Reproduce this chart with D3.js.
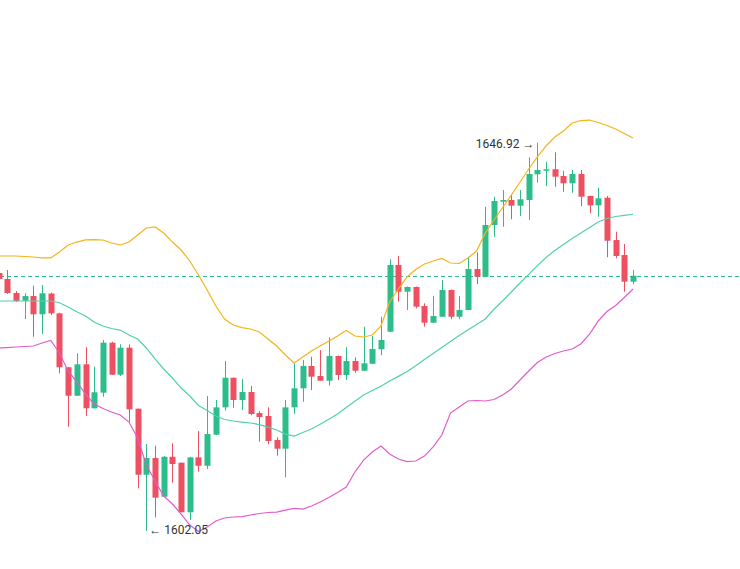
<!DOCTYPE html>
<html>
<head>
<meta charset="utf-8">
<script src="https://cdn.jsdelivr.net/npm/d3@7"></script>
<style>
  html, body { margin: 0; padding: 0; background: #fff; }
  svg { display: block; }
  .label { font-family: Roboto, "Liberation Sans", Arial, sans-serif; font-size: 12px; fill: #333; }
</style>
</head>
<body>
<div id="chart"></div>
<script>
const WIDTH = 740;
const HEIGHT = 569;

// velas (open, high, low, close)
const OPEN = [
  1631.86, 1631.17, 1629.55, 1628.66, 1629.20, 1627.09, 1629.49, 1627.20, 1620.97, 1617.68,
  1621.31, 1616.23, 1618.03, 1623.81, 1620.11, 1623.23, 1616.18, 1608.55, 1610.48, 1606.01,
  1610.63, 1609.94, 1604.21, 1610.56, 1609.59, 1613.18, 1616.34, 1619.76, 1617.19, 1618.11,
  1615.68, 1615.34, 1612.57, 1611.56, 1616.34, 1618.54, 1621.12, 1619.96, 1619.42, 1622.27,
  1620.08, 1621.69, 1620.57, 1621.38, 1623.05, 1625.08, 1632.79, 1629.70, 1630.25, 1628.05,
  1626.12, 1626.81, 1629.90, 1626.81, 1627.59, 1632.32, 1631.43, 1637.41, 1640.10, 1640.30,
  1639.64, 1640.30, 1643.27, 1643.68, 1643.85, 1643.07, 1642.23, 1643.30, 1640.76, 1639.68,
  1640.56, 1635.67, 1633.94, 1630.86
];
const HIGH = [
  1631.98, 1632.21, 1629.78, 1629.55, 1630.39, 1630.48, 1629.61, 1627.27, 1621.00, 1622.58,
  1623.28, 1621.04, 1624.12, 1623.92, 1623.62, 1623.62, 1616.20, 1612.10, 1611.90, 1610.71,
  1612.18, 1609.96, 1610.63, 1613.60, 1617.65, 1617.19, 1621.69, 1619.78, 1619.61, 1618.80,
  1615.91, 1616.34, 1612.88, 1617.19, 1621.43, 1621.81, 1622.19, 1622.96, 1624.43, 1622.33,
  1623.28, 1622.12, 1625.66, 1624.58, 1626.81, 1633.45, 1633.83, 1630.30, 1630.30, 1628.36,
  1629.21, 1631.05, 1629.96, 1629.21, 1633.74, 1634.25, 1639.52, 1640.68, 1641.45, 1640.88,
  1641.45, 1645.23, 1646.92, 1644.72, 1645.81, 1643.68, 1643.77, 1643.77, 1640.82, 1641.72,
  1640.76, 1636.63, 1635.21, 1632.21
];
const LOW = [
  1631.05, 1629.44, 1628.51, 1626.55, 1624.50, 1624.81, 1627.01, 1620.27, 1614.10, 1617.65,
  1615.34, 1616.20, 1617.57, 1620.08, 1619.96, 1614.68, 1606.98, 1602.05, 1603.63, 1605.98,
  1607.63, 1604.19, 1603.32, 1608.90, 1609.21, 1613.14, 1615.95, 1616.30, 1616.03, 1615.42,
  1612.37, 1612.07, 1610.75, 1608.25, 1615.57, 1616.99, 1618.34, 1619.38, 1618.84, 1619.50,
  1619.50, 1620.34, 1620.54, 1621.35, 1622.35, 1625.04, 1628.55, 1627.59, 1627.78, 1625.66,
  1626.08, 1626.78, 1626.51, 1626.51, 1627.58, 1630.59, 1631.40, 1636.06, 1637.21, 1638.07,
  1638.45, 1637.99, 1642.30, 1641.92, 1641.83, 1641.26, 1641.14, 1639.60, 1638.76, 1638.37,
  1633.68, 1633.56, 1629.70, 1630.56
];
const CLOSE = [
  1631.17, 1629.55, 1628.63, 1629.20, 1627.09, 1629.52, 1627.20, 1620.97, 1617.68, 1621.31,
  1616.23, 1618.08, 1623.81, 1620.11, 1623.23, 1616.11, 1608.55, 1610.48, 1605.90, 1610.63,
  1609.79, 1604.21, 1610.56, 1609.59, 1613.26, 1616.34, 1619.76, 1617.19, 1618.11, 1615.57,
  1615.22, 1612.45, 1611.56, 1616.34, 1618.54, 1621.12, 1619.88, 1619.42, 1622.27, 1620.08,
  1621.69, 1620.57, 1621.43, 1623.08, 1624.12, 1632.79, 1629.70, 1630.25, 1627.97, 1626.12,
  1626.89, 1629.90, 1626.81, 1627.59, 1632.32, 1631.43, 1637.41, 1640.18, 1640.30, 1639.64,
  1640.38, 1643.30, 1643.77, 1643.85, 1642.99, 1642.23, 1643.30, 1640.68, 1639.68, 1640.49,
  1635.59, 1633.83, 1630.86, 1631.55
];

// bandas de Bollinger
const BB_UPPER = [
  1633.83, 1633.83, 1633.83, 1633.77, 1633.71, 1633.60, 1633.60, 1634.29, 1635.10, 1635.44,
  1635.68, 1635.73, 1635.68, 1635.33, 1635.10, 1635.44, 1636.25, 1637.06, 1637.18, 1636.48,
  1635.44, 1634.52, 1633.25, 1631.63, 1629.90, 1628.05, 1626.55, 1625.85, 1625.56, 1625.39,
  1625.04, 1624.24, 1623.43, 1622.39, 1621.46, 1622.16, 1622.85, 1623.43, 1624.01, 1624.58,
  1625.22, 1624.58, 1624.47, 1624.70, 1625.74, 1628.51, 1630.01, 1631.40, 1632.27, 1632.90,
  1633.25, 1633.54, 1633.02, 1632.96, 1633.60, 1634.40, 1636.48, 1637.99, 1639.43, 1640.87,
  1642.38, 1643.88, 1645.27, 1646.54, 1647.58, 1648.27, 1649.20, 1649.48, 1649.54, 1649.25,
  1648.91, 1648.50, 1647.98, 1647.46
];
const BB_MIDDLE = [
  1628.63, 1628.63, 1628.63, 1628.63, 1628.63, 1628.63, 1628.63, 1628.43, 1627.93, 1627.39,
  1626.89, 1626.20, 1625.74, 1625.45, 1625.27, 1624.70, 1624.24, 1623.20, 1621.93, 1620.77,
  1619.73, 1618.57, 1617.65, 1616.55, 1615.97, 1615.34, 1614.93, 1614.76, 1614.64, 1614.53,
  1614.35, 1614.06, 1613.72, 1613.25, 1613.02, 1613.43, 1613.83, 1614.38, 1614.96, 1615.57,
  1616.32, 1617.04, 1617.76, 1618.28, 1618.78, 1619.38, 1619.92, 1620.48, 1621.15, 1621.87,
  1622.57, 1623.26, 1623.95, 1624.63, 1625.27, 1625.91, 1626.55, 1627.67, 1628.66, 1629.67,
  1630.71, 1631.70, 1632.71, 1633.65, 1634.46, 1635.16, 1635.85, 1636.48, 1637.12, 1637.76,
  1638.16, 1638.39, 1638.53, 1638.65
];
const BB_LOWER = [
  1623.20, 1623.25, 1623.31, 1623.37, 1623.43, 1623.77, 1624.06, 1622.62, 1620.54, 1619.27,
  1617.88, 1616.72, 1616.20, 1615.80, 1615.45, 1614.64, 1612.79, 1609.67, 1607.83, 1606.09,
  1605.17, 1604.01, 1602.74, 1601.99, 1602.51, 1603.20, 1603.55, 1603.67, 1603.72, 1603.90,
  1604.07, 1604.19, 1604.24, 1604.47, 1604.67, 1604.59, 1604.94, 1605.40, 1605.92, 1606.50,
  1607.13, 1608.87, 1610.25, 1611.18, 1611.87, 1610.95, 1610.37, 1610.06, 1610.14, 1610.71,
  1611.76, 1613.14, 1615.68, 1616.38, 1617.07, 1617.13, 1617.07, 1617.24, 1617.76, 1618.46,
  1619.50, 1620.54, 1621.52, 1622.16, 1622.56, 1622.85, 1623.08, 1623.66, 1624.81, 1626.32,
  1627.41, 1628.11, 1629.03, 1630.01
];

const UP_COLOR = '#2dbd8a';
const DOWN_COLOR = '#ee5061';

const data = OPEN.map((o, i) => ({
  i,
  open: o,
  high: HIGH[i],
  low: LOW[i],
  close: CLOSE[i],
  upper: BB_UPPER[i],
  middle: BB_MIDDLE[i],
  lower: BB_LOWER[i],
}));

const svg = d3.select('#chart').append('svg')
  .attr('width', WIDTH)
  .attr('height', HEIGHT);

const x = d3.scaleLinear()
  .domain([0, data.length - 1])
  .range([-1.4, 633]);

const y = d3.scaleLinear()
  .domain([1602.05, 1646.92])
  .range([531, 142.7]);

const candleWidth = 6;

// linea del ultimo precio
const last = data[data.length - 1];
svg.append('line')
  .attr('x1', 0)
  .attr('x2', WIDTH)
  .attr('y1', Math.round(y(last.close)) + 0.5)
  .attr('y2', Math.round(y(last.close)) + 0.5)
  .attr('stroke', last.close >= last.open ? UP_COLOR : DOWN_COLOR)
  .attr('stroke-width', 1)
  .attr('stroke-dasharray', '4,3');

const candles = svg.append('g').attr('class', 'candles')
  .selectAll('g')
  .data(data)
  .enter()
  .append('g')
  .attr('fill', d => (d.close >= d.open ? UP_COLOR : DOWN_COLOR))
  .attr('stroke', d => (d.close >= d.open ? UP_COLOR : DOWN_COLOR));

candles.append('line')
  .attr('x1', d => Math.round(x(d.i)) + 0.5)
  .attr('x2', d => Math.round(x(d.i)) + 0.5)
  .attr('y1', d => y(d.high))
  .attr('y2', d => y(d.low))
  .attr('stroke-width', 1);

candles.append('rect')
  .attr('x', d => Math.round(x(d.i)) + 0.5 - candleWidth / 2)
  .attr('width', candleWidth)
  .attr('y', d => y(Math.max(d.open, d.close)))
  .attr('height', d => Math.max(1, Math.abs(y(d.open) - y(d.close))))
  .attr('stroke', 'none');

// bandas
const bands = [
  { key: 'upper', color: '#f4b41a' },
  { key: 'middle', color: '#4fd1ae' },
  { key: 'lower', color: '#e25ccd' },
];

bands.forEach(b => {
  const line = d3.line()
    .x(d => x(d.i))
    .y(d => y(d[b.key]));

  svg.append('path')
    .datum(data)
    .attr('fill', 'none')
    .attr('stroke', b.color)
    .attr('stroke-width', 1.2)
    .attr('d', line);
});

// etiquetas de maximo y minimo
const hiIdx = d3.maxIndex(data, d => d.high);
const loIdx = d3.minIndex(data, d => d.low);

svg.append('text')
  .attr('class', 'label')
  .attr('x', x(hiIdx) - 3)
  .attr('y', y(data[hiIdx].high) + 2)
  .attr('text-anchor', 'end')
  .attr('dominant-baseline', 'middle')
  .text(`${d3.format('.2f')(data[hiIdx].high)} \u2192`);

svg.append('text')
  .attr('class', 'label')
  .attr('x', x(loIdx) + 3)
  .attr('y', y(data[loIdx].low) + 0)
  .attr('text-anchor', 'start')
  .attr('dominant-baseline', 'middle')
  .text(`\u2190 ${d3.format('.2f')(data[loIdx].low)}`);
</script>
</body>
</html>
